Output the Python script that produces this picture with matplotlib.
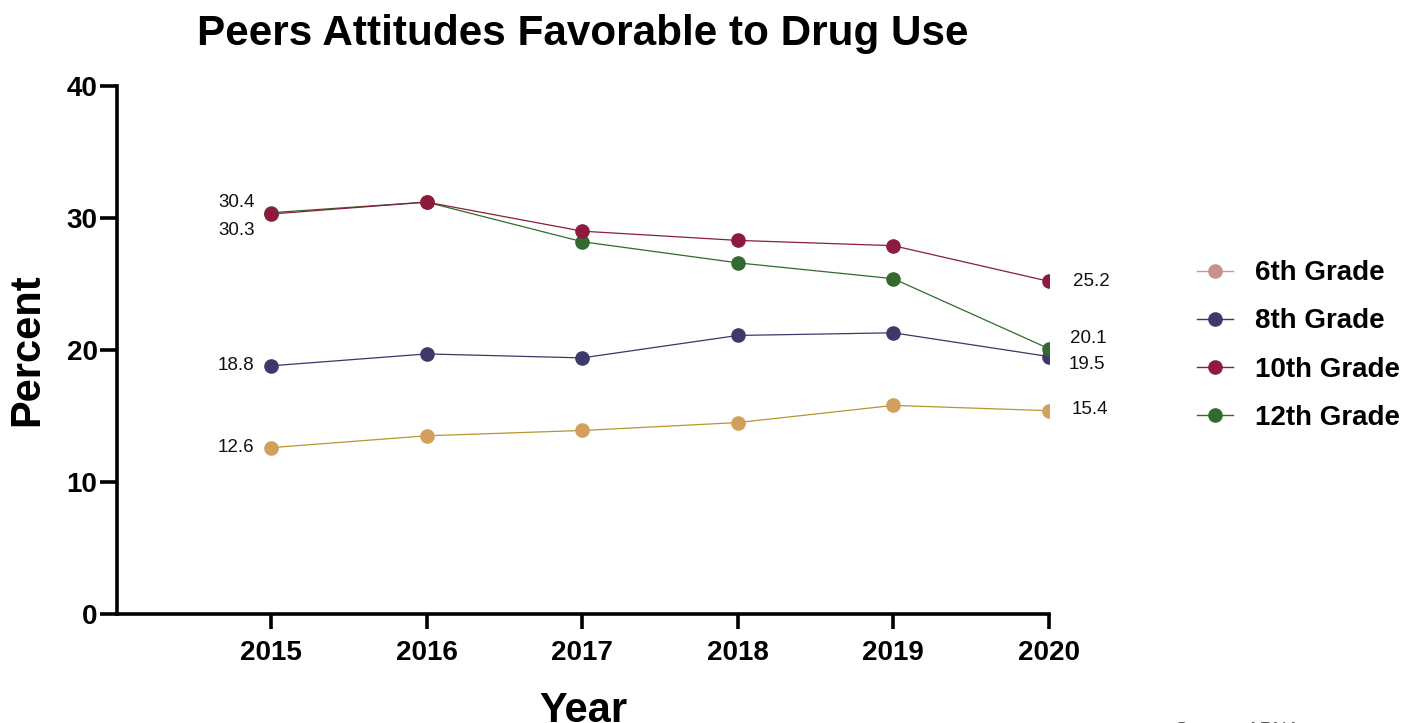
import matplotlib.pyplot as plt
from matplotlib.lines import Line2D

plt.rcParams['font.family'] = ['Liberation Sans', 'DejaVu Sans']

years = [2015, 2016, 2017, 2018, 2019, 2020]
grade6 = [12.6, 13.5, 13.9, 14.5, 15.8, 15.4]
grade8 = [18.8, 19.7, 19.4, 21.1, 21.3, 19.5]
grade10 = [30.3, 31.2, 29.0, 28.3, 27.9, 25.2]
grade12 = [30.4, 31.2, 28.2, 26.6, 25.4, 20.1]
labels = ['6th Grade', '8th Grade', '10th Grade', '12th Grade']

series = [grade6, grade8, grade12, grade10]
line_colors = ['#b8952f', '#3b3766', '#2f6b2c', '#8a1c3c']
marker_colors = ['#d2a05c', '#3d3a6a', '#336a30', '#8e1b3e']

fig = plt.figure(figsize=(14.19, 7.23), dpi=100)
ax = fig.add_axes([0.0825, 0.1508, 0.6567, 0.7303])

for vals, lc, mc in zip(series, line_colors, marker_colors):
    ax.plot(years, vals, color=lc, lw=0.9, marker='o', ms=9.5,
            mfc=mc, mec=mc, zorder=3)

# end labels
lab = dict(fontsize=13.5, color='#111111', textcoords='offset points')
ax.annotate(f'{grade12[0]}', (years[0], grade12[0]), xytext=(-12, 7), ha='right', va='center', **lab)
ax.annotate(f'{grade10[0]}', (years[0], grade10[0]), xytext=(-12, -12), ha='right', va='center', **lab)
ax.annotate(f'{grade8[0]}', (years[0], grade8[0]), xytext=(-12, 0), ha='right', va='center', **lab)
ax.annotate(f'{grade6[0]}', (years[0], grade6[0]), xytext=(-12, 0), ha='right', va='center', **lab)
ax.annotate(f'{grade10[-1]}', (years[-1], grade10[-1]), xytext=(17, 0), ha='left', va='center', **lab)
ax.annotate(f'{grade12[-1]}', (years[-1], grade12[-1]), xytext=(15, 7), ha='left', va='center', **lab)
ax.annotate(f'{grade8[-1]}', (years[-1], grade8[-1]), xytext=(14, -6), ha='left', va='center', **lab)
ax.annotate(f'{grade6[-1]}', (years[-1], grade6[-1]), xytext=(16, 1), ha='left', va='center', **lab)

ax.set_xlim(2014.01, 2020)
ax.set_ylim(0, 40)
ax.set_xticks(years)
ax.set_yticks([0, 10, 20, 30, 40])
for s in ['top', 'right']:
    ax.spines[s].set_visible(False)
for s in ['left', 'bottom']:
    ax.spines[s].set_linewidth(2.6)
ax.tick_params(axis='y', length=12, width=2.6, labelsize=20, pad=2)
ax.tick_params(axis='x', length=11, width=2.6, labelsize=20, pad=8)
for t in ax.get_xticklabels() + ax.get_yticklabels():
    t.set_fontweight('bold')

ax.set_ylabel('Percent', fontsize=30, fontweight='bold', labelpad=14)
ax.set_xlabel('Year', fontsize=30, fontweight='bold', labelpad=18)
fig.text(0.411, 0.953, 'Peers Attitudes Favorable to Drug Use', fontsize=30.4,
         fontweight='bold', ha='center', va='center')

legend_cols = ['#c8918a', '#3d3a6a', '#8e1b3e', '#336a30']
legend_lines = ['#c89a90', '#3b3766', '#8a1c3c', '#2f6b2c']
handles = [Line2D([0], [0], color=lc, lw=1.0, marker='o', ms=9.5, mfc=mc, mec=mc)
           for lc, mc in zip(legend_lines, legend_cols)]
leg = fig.legend(handles, labels, loc='center left', bbox_to_anchor=(0.826, 0.522),
                 frameon=False, handlelength=1.3, handletextpad=0.8, labelspacing=0.8,
                 prop={'size': 20, 'weight': 'bold'})

fig.text(0.828, -0.022, 'Source: APNA', fontsize=14, color='#555555', ha='left', va='bottom')

fig.savefig('out.png', dpi=100)
